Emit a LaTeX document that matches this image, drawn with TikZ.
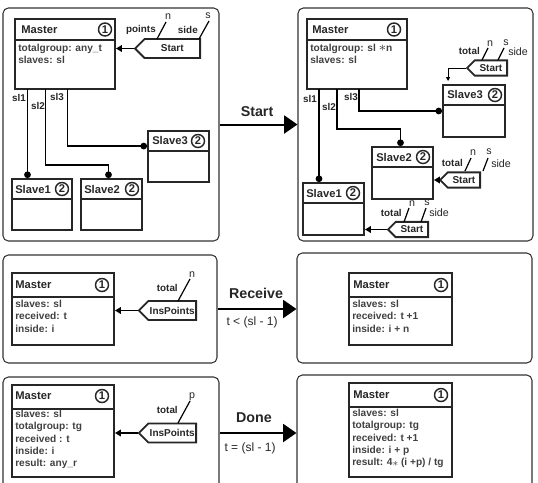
\documentclass[tikz,border=0pt]{standalone}
\usepackage{fontspec}
\setmainfont{Liberation Sans}
\usepackage{tikz}
\usetikzlibrary{shapes.symbols, positioning, arrows.meta, calc, fit}

\begin{document}
\begin{tikzpicture}[
  x=0.75pt, y=-0.75pt,
  every node/.style={text=black!85},
  panel/.style={draw=black!80, line width=0.8pt, rounded corners=4pt, inner sep=0pt},
  cls/.style={
    draw=black!85, line width=1.4pt, inner sep=0pt,
    path picture={\draw[black!85, line width=1.4pt]
      ([yshift=-#1]path picture bounding box.north west) --
      ([yshift=-#1]path picture bounding box.north east);},
  },
  cls/.default=15pt,
  title/.style={anchor=west, inner sep=0pt, font=\bfseries\fontsize{8.4}{10}\selectfont},
  num/.style={
    circle, draw=black!85, line width=1.1pt, inner sep=0pt,
    minimum size=9.75pt, font=\bfseries\fontsize{8.4}{8.4}\selectfont,
  },
  attrs/.style={anchor=north west, align=left, inner sep=0pt, text=black!75,
    font=\bfseries\fontsize{7.6}{9.2}\selectfont},
  sig/.style={
    signal, signal to=west, signal pointer angle=90,
    draw=black!85, line width=1.4pt, fill=white, inner sep=1pt,
    anchor=east, font=\bfseries\fontsize{7.5}{9}\selectfont,
  },
  lbl/.style={inner sep=0pt, font=\bfseries\fontsize{7.4}{9}\selectfont},
  var/.style={inner sep=0pt, font=\fontsize{8}{9}\selectfont},
  tick/.style={line width=0.9pt},
  link/.style={line width=1.1pt, -{Circle[length=5pt]}},
  sigarr/.style={line width=1.4pt, -{Triangle[length=4.5pt, width=5pt]}},
  thinarr/.style={line width=0.7pt, -{Triangle[length=3pt, width=3pt]}},
  bigarr/.style={line width=1.5pt, -{Triangle[length=10pt, width=13.5pt]}},
  evt/.style={font=\bfseries\fontsize{10.7}{12}\selectfont},
  guard/.style={font=\fontsize{9}{10}\selectfont},
]
\useasboundingbox (0,0) rectangle (538,482);

% ---- Panels ----
\node[panel, fit={(3,8) (219,241)}] (pA) {};
\node[panel, fit={(298,8) (533,241)}] (pB) {};
\node[panel, fit={(3,255) (217,363)}] (pC) {};
\node[panel, fit={(297,253) (532,363)}] (pD) {};
\node[panel, fit={(3,377) (219,489)}] (pE) {};
\node[panel, fit={(297,375) (532,489)}] (pF) {};

% ---- Panel A: before Start ----
\node[cls=15.75pt, fit={(15,19) (115,89)}] (mA) {};
\node[title] (mAt) at (21,29.5) {Master};
\node[num] (mAn) at (105,29.5) {1};
\node[attrs] (mAa) at (18,44) {totalgroup: any\_t\\slaves: sl};

\node[cls, fit={(12,179) (72,230)}] (sA1) {};
\node[title] (sA1t) at (15,189) {Slave1};
\node[num] (sA1n) at (62,189) {2};
\node[cls, fit={(81,179) (142,230)}] (sA2) {};
\node[title] (sA2t) at (84,189) {Slave2};
\node[num] (sA2n) at (132,189) {2};
\node[cls, fit={(148,131) (209,182)}] (sA3) {};
\node[title] (sA3t) at (152,141) {Slave3};
\node[num] (sA3n) at (198,141) {2};

\coordinate (aSl1) at (27.5,89);
\coordinate (aSl2) at (45.7,89);
\coordinate (aSl3) at (67.7,89);
\draw[link] (aSl1) -- (aSl1 |- sA1.north);
\draw[link] (aSl2) |- ($(sA2.north)+(-3,-13)$) -- ($(sA2.north)+(-3,0)$);
\draw[link] (aSl3) |- ($(sA3.north west)+(0,16)$);
\node[lbl] (aL1) at (19,98) {sl1};
\node[lbl] (aL2) at (38,106) {sl2};
\node[lbl] (aL3) at (57,97) {sl3};

\node[sig, minimum width=48.75pt, minimum height=14.25pt] (stA) at (201,48.5) {Start};
\draw[sigarr] (stA.west) -- (stA.west -| mA.east);
\draw[tick] (157,39) -- (166,22);
\draw[tick] (199,39) -- (209,21);
\node[lbl, anchor=east] (ptsA) at (156,30) {points};
\node[var] (vnA) at (168,17) {n};
\node[lbl, anchor=east] (sideA) at (198,30) {side};
\node[var] (vsA) at (208,16) {s};

% ---- Start ----
\draw[bigarr] (pA.east) -- (pB.west);
\node[evt] (eStart) at (257,112) {Start};

% ---- Panel B: after Start ----
\node[cls=15.75pt, fit={(307,19) (407,89)}] (mB) {};
\node[title] (mBt) at (312,29.5) {Master};
\node[num] (mBn) at (394,29.5) {1};
\node[attrs] (mBa) at (310,44) {totalgroup: sl \scalebox{1.3}{$\ast$}n\\slaves: sl};

\node[cls, fit={(303,183) (364,235)}] (sB1) {};
\node[title] (sB1t) at (306,193) {Slave1};
\node[num] (sB1n) at (353,193) {2};
\node[cls, fit={(372,147) (433,199)}] (sB2) {};
\node[title] (sB2t) at (376,157) {Slave2};
\node[num] (sB2n) at (423,157) {2};
\node[cls, fit={(443,85) (505,137)}] (sB3) {};
\node[title] (sB3t) at (447,95) {Slave3};
\node[num] (sB3n) at (495,95) {2};

\coordinate (bSl1) at (319,89);
\coordinate (bSl2) at (337,89);
\coordinate (bSl3) at (359,89);
\draw[link] (bSl1) -- (bSl1 |- sB1.north);
\draw[link] (bSl2) |- ($(sB2.north)+(-2,-17)$) -- ($(sB2.north)+(-2,0)$);
\draw[link] (bSl3) |- (sB3.west);
\node[lbl] (bL1) at (310,99) {sl1};
\node[lbl] (bL2) at (329,107) {sl2};
\node[lbl] (bL3) at (351,97) {sl3};

% start signals for the slaves
\node[sig, minimum width=30pt, minimum height=11.5pt] (stB3) at (508,68) {Start};
\draw[thinarr] (stB3.west) -| ($(sB3.north west)+(6,-3)$);
\draw[tick] (482,60) -- (488,48);
\draw[tick] (498,60) -- (504,48);
\node[lbl, anchor=east] (totB3) at (480,51) {total};
\node[var] (vnB3) at (490,44) {n};
\node[var] (vsB3) at (506,43) {s};
\node[var, anchor=west] (sideB3) at (508,52) {side};

\node[sig, minimum width=30pt, minimum height=11.5pt] (stB2) at (481,180) {Start};
\draw[sigarr] (stB2.west) -- (stB2.west -| sB2.east);
\draw[tick] (465,171) -- (471,158);
\draw[tick] (483,171) -- (488,158);
\node[lbl, anchor=east] (totB2) at (463,163) {total};
\node[var] (vnB2) at (473,153) {n};
\node[var] (vsB2) at (489,152) {s};
\node[var, anchor=west] (sideB2) at (491,164) {side};

\node[sig, minimum width=30pt, minimum height=11.5pt] (stB1) at (429,229.5) {Start};
\draw[sigarr] (stB1.west) -- (stB1.west -| sB1.east);
\draw[tick] (404,222) -- (409,208);
\draw[tick] (421,222) -- (426,208);
\node[lbl, anchor=east] (totB1) at (402,213) {total};
\node[var] (vnB1) at (412,204) {n};
\node[var] (vsB1) at (427,203) {s};
\node[var, anchor=west] (sideB1) at (429,213) {side};

% ---- Panel C / D: Receive ----
\node[cls=18pt, fit={(12,273) (114,345)}] (mC) {};
\node[title] (mCt) at (15,285) {Master};
\node[num] (mCn) at (102,285) {1};
\node[attrs] (mCa) at (15,300) {slaves: sl\\received: t\\inside: i};

\node[sig, minimum width=40.5pt, minimum height=14.25pt] (ipC) at (197,310.5) {InsPoints};
\draw[sigarr] (ipC.west) -- (ipC.west -| mC.east);
\draw[tick] (178,301) -- (190,279);
\node[lbl, anchor=east] (totC) at (178,288) {total};
\node[var] (vnC) at (192,275) {n};

\draw[bigarr] (pC.east) -- (pC.east -| pD.west);
\node[evt] (eRecv) at (256,293) {Receive};
\node[guard] (gRecv) at (252,322) {t < (sl - 1)};

\node[cls=18pt, fit={(349,273) (452,345)}] (mD) {};
\node[title] (mDt) at (353,285) {Master};
\node[num] (mDn) at (441,285) {1};
\node[attrs] (mDa) at (352,300) {slaves: sl\\received: t +1\\inside: i + n};

% ---- Panel E / F: Done ----
\node[cls=18pt, fit={(12,385) (114,477)}] (mE) {};
\node[title] (mEt) at (15,396) {Master};
\node[num] (mEn) at (102,396) {1};
\node[attrs] (mEa) at (15,410) {slaves: sl\\totalgroup: tg\\received : t\\inside: i\\result: any\_r};

\node[sig, minimum width=40.5pt, minimum height=14.25pt] (ipE) at (197,433) {InsPoints};
\draw[sigarr] (ipE.west) -- (ipE.west -| mE.east);
\draw[tick] (178,423) -- (190,401);
\node[lbl, anchor=east] (totE) at (178,410) {total};
\node[var] (vpE) at (192,397) {p};

\draw[bigarr] (pE.east) -- (pE.east -| pF.west);
\node[evt] (eDone) at (254,418) {Done};
\node[guard] (gDone) at (250,448) {t = (sl - 1)};

\node[cls=18pt, fit={(349,383) (452,477)}] (mF) {};
\node[title] (mFt) at (353,395) {Master};
\node[num] (mFn) at (441,395) {1};
\node[attrs] (mFa) at (352,409) {slaves: sl\\totalgroup: tg\\received: t +1\\inside: i + p\\result: 4\raisebox{-0.2ex}{$\ast$} (i +p) / tg};

\end{tikzpicture}
\end{document}
